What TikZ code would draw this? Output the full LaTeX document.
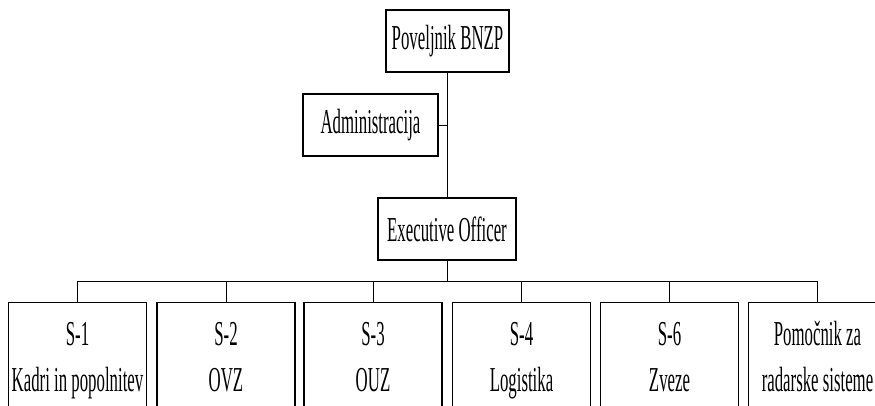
\documentclass[tikz,border=0pt]{standalone}
\usepackage{fontspec}
\setmainfont{Liberation Serif}[FakeStretch=0.48]
\begin{document}
\begin{tikzpicture}[x=1pt,y=-1pt,
  box/.style={draw=black, line width=1.3pt, fill=white, inner sep=0pt,
    font=\fontsize{35}{46}\selectfont, align=center},
  topbox/.style={box, minimum height=62pt},
  sbox/.style={box, minimum width=138pt, minimum height=114pt, anchor=north},
  conn/.style={draw=black, line width=0.9pt}]
\useasboundingbox (0,0) rectangle (875,405);
\clip (0,0) rectangle (875,405);
\node[topbox, minimum width=123pt] (pov) at (447.5,41) {Poveljnik BNZP};
\node[topbox, minimum width=135pt] (adm) at (370.5,125) {Administracija};
\node[topbox, minimum width=138pt] (eo) at (447,229) {Executive Officer};
\node[sbox] (s1) at (77.5,302) {\strut S-1\\\strut Kadri in popolnitev};
\node[sbox] (s2) at (226,302) {\strut S-2\\\strut OVZ};
\node[sbox] (s3) at (373,302) {\strut S-3\\\strut OUZ};
\node[sbox] (s4) at (521.5,302) {\strut S-4\\\strut Logistika};
\node[sbox] (s6) at (669.5,302) {\strut S-6\\\strut Zveze};
\node[sbox] (pom) at (817.5,302) {\strut Pomočnik za\\\strut radarske sisteme};
\coordinate (bus) at (447,281);
\draw[conn] (pov.south -| eo.north) -- (eo.north);
\draw[conn] (adm.east) -- (adm.east -| eo.north);
\draw[conn] (eo.south) -- (bus);
\draw[conn] (s1.north |- bus) -- (pom.north |- bus);
\foreach \n in {s1,s2,s3,s4,s6,pom}{
  \draw[conn] (\n.north) -- (\n.north |- bus);
}
\end{tikzpicture}
\end{document}
